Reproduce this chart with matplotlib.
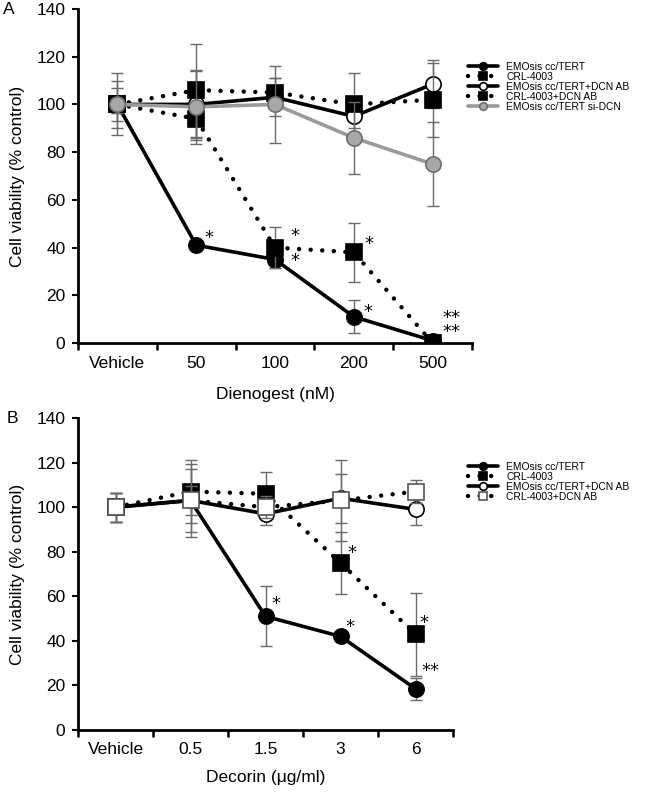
import matplotlib
matplotlib.use("Agg")
import matplotlib.pyplot as plt
import numpy as np

plt.rcParams['font.family'] = ['Liberation Sans', 'DejaVu Sans']

# ---------------- Panel A data ----------------
cats_a = ['Vehicle', '50', '100', '200', '500']
emosis_a = [100, 41, 35, 11, 1]
emosis_a_err = [3.5, 2, 3.5, 7, 1]
crl_a = [100, 94, 40, 38, 0]
crl_a_err = [10, 9, 8.5, 12.5, 1]
emosis_ab_a = [100, 100, 103, 95, 108.5]
emosis_ab_a_err = [3.5, 14, 8, 5, 10]
crl_ab_a = [100, 106, 105, 100, 102]
crl_ab_a_err = [7, 19.5, 6, 13, 15.5]
sidcn_a = [100, 99, 100, 86, 75]
sidcn_a_err = [13, 15.5, 16, 15, 17.5]
stars_a_x = [1.10, 2.20, 2.20, 3.13, 3.12, 4.12]
stars_a_y = [44, 45, 34.5, 41.5, 13, 7.5]
stars_a_txt = ['*', '*', '*', '*', '*', '**\n**']

# ---------------- Panel B data ----------------
cats_b = ['Vehicle', '0.5', '1.5', '3', '6']
emosis_b = [100, 103, 51, 42, 18.5]
emosis_b_err = [6.5, 14, 13.4, 1.5, 5]
crl_b = [100, 107, 106, 75, 43]
crl_b_err = [6.5, 14, 9.6, 14, 18.6]
emosis_ab_b = [100, 103, 97, 104, 99]
emosis_ab_b_err = [6.5, 6.5, 5, 11, 7]
crl_ab_b = [100, 103, 100, 103, 107]
crl_ab_b_err = [6.5, 16.5, 5, 18, 5]
stars_b_x = [2.08, 3.07, 3.09, 4.05, 4.08]
stars_b_y = [56.5, 46, 79.5, 48, 26.5]
stars_b_txt = ['*', '*', '*', '*', '**']

fig = plt.figure(figsize=(6.53, 7.94), dpi=100)
axA = fig.add_axes([78/653, 1-343/794, 394/653, 334/794])
axB = fig.add_axes([78/653, 1-730/794, 375/653, 312/794])

DOT = (0, (0.01, 2.6))
ERR = '#6a6a6a'


def series(ax, y, err, marker, mfc, ls, color, mec, label, z, lw=2.6):
    x = np.arange(len(y))
    ax.errorbar(x, y, yerr=err, fmt='none', ecolor=ERR, elinewidth=1.0,
                capsize=4, capthick=1.0, zorder=z - 0.5)
    ln, = ax.plot(x, y, linestyle=ls, color=color, lw=lw, marker=marker,
                  markersize=11, markerfacecolor=mfc, markeredgecolor=mec,
                  markeredgewidth=1.2, dash_capstyle='round',
                  solid_capstyle='round', label=label, zorder=z)
    return ln


def style(ax, cats, xlabel, letter, xpad):
    ax.set_xlim(-0.5, 4.5)
    ax.set_ylim(0, 140)
    ax.set_yticks(np.arange(0, 141, 20))
    ax.set_xticks(np.arange(-0.5, 4.51, 1.0))
    ax.set_xticklabels([])
    ax.set_xticks(np.arange(len(cats)), minor=True)
    ax.set_xticklabels(cats, minor=True)
    ax.tick_params(axis='x', which='major', length=5, width=1.8, direction='out')
    ax.tick_params(axis='x', which='minor', length=0, pad=9, labelsize=12.5)
    ax.tick_params(axis='y', length=4, width=1.5, direction='out', pad=5,
                   labelsize=12.5)
    for s in ['top', 'right']:
        ax.spines[s].set_visible(False)
    for s in ['left', 'bottom']:
        ax.spines[s].set_linewidth(2.0)
    ax.set_ylabel('Cell viability (% control)', fontsize=12.5, labelpad=8)
    ax.set_xlabel(xlabel, fontsize=12.5, labelpad=xpad)
    ax.text(-0.19, 1.0, letter, transform=ax.transAxes, fontsize=12.5,
            va='center', ha='left')


def stars(ax, xs, ys, ts):
    for x, y, t in zip(xs, ys, ts):
        ax.text(x, y, t, fontsize=13, ha='left', va='center', zorder=10,
                family='DejaVu Sans', linespacing=0.75)


LEG = dict(loc='upper left', frameon=False, fontsize=7.4, markerscale=0.5,
           handlelength=2.9, handletextpad=0.8, labelspacing=0.0,
           borderaxespad=0.0, borderpad=0.0)

# Panel A
h1 = series(axA, emosis_a, emosis_a_err, 'o', 'black', '-', 'black', 'black', 'EMOsis cc/TERT', 3)
h2 = series(axA, crl_a, crl_a_err, 's', 'black', DOT, 'black', 'black', 'CRL-4003', 4, lw=3.2)
h3 = series(axA, emosis_ab_a, emosis_ab_a_err, 'o', 'white', '-', 'black', 'black', 'EMOsis cc/TERT+DCN AB', 5)
h4 = series(axA, crl_ab_a, crl_ab_a_err, 's', 'black', DOT, 'black', 'black', 'CRL-4003+DCN AB', 6, lw=3.2)
h5 = series(axA, sidcn_a, sidcn_a_err, 'o', '#a8a8a8', '-', '#9a9a9a', '#6e6e6e', 'EMOsis cc/TERT si-DCN', 7)
stars(axA, stars_a_x, stars_a_y, stars_a_txt)
style(axA, cats_a, 'Dienogest (nM)', 'A', 12)
axA.legend(handles=[h1, h2, h3, h4, h5], bbox_to_anchor=(0.99, 0.842), **LEG)

# Panel B
g1 = series(axB, emosis_b, emosis_b_err, 'o', 'black', '-', 'black', 'black', 'EMOsis cc/TERT', 3)
g2 = series(axB, crl_b, crl_b_err, 's', 'black', DOT, 'black', 'black', 'CRL-4003', 4, lw=3.2)
g3 = series(axB, emosis_ab_b, emosis_ab_b_err, 'o', 'white', '-', 'black', 'black', 'EMOsis cc/TERT+DCN AB', 5)
g4 = series(axB, crl_ab_b, crl_ab_b_err, 's', 'white', DOT, 'black', '#555555', 'CRL-4003+DCN AB', 6, lw=3.2)
stars(axB, stars_b_x, stars_b_y, stars_b_txt)
style(axB, cats_b, 'Decorin (\u03bcg/ml)', 'B', 9)
axB.legend(handles=[g1, g2, g3, g4], bbox_to_anchor=(1.04, 0.86), **LEG)

fig.savefig('out.png', dpi=100)
